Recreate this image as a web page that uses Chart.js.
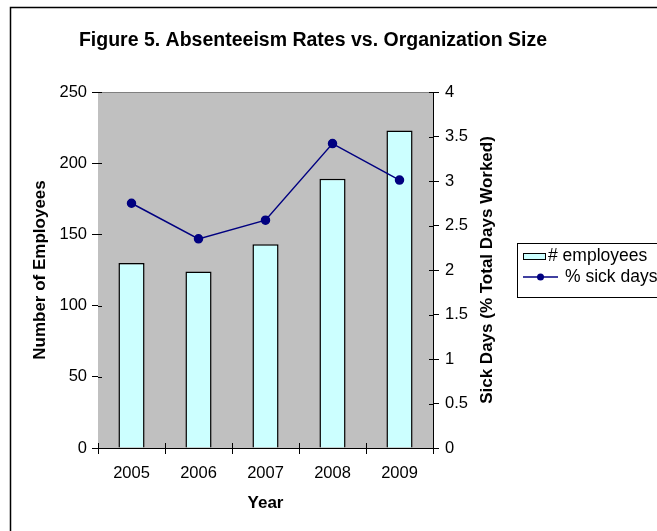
<!DOCTYPE html>
<html>
<head>
<meta charset="utf-8">
<script src="https://cdn.jsdelivr.net/npm/chart.js@4"></script>
<style>
  html, body { margin: 0; padding: 0; background: #fff; }
  #wrap { width: 657px; height: 531px; }
</style>
</head>
<body>
<div id="wrap"><canvas id="absChart" width="657" height="531"></canvas></div>
<script>
const years = ['2005', '2006', '2007', '2008', '2009'];
const employees = [130, 124, 143, 189, 223];
const sickDays = [2.75, 2.35, 2.56, 3.42, 3.01];
const employeeTicks = [0, 50, 100, 150, 200, 250];
const sickTicks = [0, 0.5, 1, 1.5, 2, 2.5, 3, 3.5, 4];

const FONT = 'Liberation Sans, Arial, Helvetica, sans-serif';
const TICK_SIZE = 16.5;
const AXIS_TITLE_SIZE = 17;

// grey plot area, outer frame, title, inner tick halves, right-hand title, legend
const excelLook = {
    id: 'excelLook',
    beforeDatasetsDraw(chart) {
        const ctx = chart.ctx;
        const a = chart.chartArea;
        ctx.save();
        ctx.fillStyle = '#c0c0c0';
        ctx.fillRect(a.left, a.top, a.right - a.left, a.bottom - a.top);
        ctx.strokeStyle = '#808080';
        ctx.lineWidth = 1;
        ctx.beginPath();
        ctx.moveTo(a.left, a.top + 0.5);
        ctx.lineTo(a.right, a.top + 0.5);
        ctx.stroke();
        ctx.restore();
    },
    afterDraw(chart) {
        const ctx = chart.ctx;
        const a = chart.chartArea;
        const x = chart.scales.x, y = chart.scales.y, y1 = chart.scales.y1;
        ctx.save();

        // frame round the whole chart
        ctx.strokeStyle = '#000';
        ctx.lineWidth = 1.5;
        ctx.strokeRect(10.5, 7.5, 700, 600);

        // title
        ctx.fillStyle = '#000';
        ctx.font = 'bold 19.5px ' + FONT;
        ctx.textAlign = 'center';
        ctx.textBaseline = 'middle';
        ctx.fillText('Figure 5. Absenteeism Rates vs. Organization Size', 313, 41);

        // tick halves reaching into the plot
        ctx.strokeStyle = '#000';
        ctx.lineWidth = 1;
        ctx.beginPath();
        employeeTicks.forEach(v => {
            const py = Math.round(y.getPixelForValue(v)) + 0.5;
            ctx.moveTo(a.left, py); ctx.lineTo(a.left + 4, py);
        });
        sickTicks.forEach(v => {
            const py = Math.round(y1.getPixelForValue(v)) + 0.5;
            ctx.moveTo(a.right - 4, py); ctx.lineTo(a.right, py);
        });
        for (let i = 0; i <= years.length; i++) {
            const px = Math.round(x.getPixelForValue(i - 0.5)) + 0.5;
            ctx.moveTo(px, a.bottom); ctx.lineTo(px, a.bottom - 5);
        }
        ctx.stroke();

        // right axis title, reading upwards
        ctx.save();
        ctx.translate(487, (a.top + a.bottom) / 2);
        ctx.rotate(-Math.PI / 2);
        ctx.font = 'bold ' + AXIS_TITLE_SIZE + 'px ' + FONT;
        ctx.textAlign = 'center';
        ctx.textBaseline = 'middle';
        ctx.fillText('Sick Days (% Total Days Worked)', 0, 0);
        ctx.restore();

        // legend
        const ds = chart.data.datasets;
        const bars = ds.find(d => d.type !== 'line');
        const line = ds.find(d => d.type === 'line');
        const lx = 517, ly = 243;
        ctx.lineWidth = 1;
        ctx.strokeStyle = '#000';
        ctx.strokeRect(lx + 0.5, ly + 0.5, 200, 54);
        ctx.fillStyle = bars.backgroundColor;
        ctx.fillRect(lx + 6, ly + 10, 22, 6);
        ctx.strokeRect(lx + 6.5, ly + 10.5, 22, 6);
        ctx.strokeStyle = line.borderColor;
        ctx.lineWidth = 1.5;
        ctx.beginPath();
        ctx.moveTo(lx + 6, ly + 34); ctx.lineTo(lx + 41, ly + 34);
        ctx.stroke();
        ctx.fillStyle = line.pointBackgroundColor;
        ctx.beginPath();
        ctx.arc(lx + 23.5, ly + 34, 3.5, 0, Math.PI * 2);
        ctx.fill();
        ctx.fillStyle = '#000';
        ctx.font = '17.5px ' + FONT;
        ctx.textAlign = 'left';
        ctx.textBaseline = 'middle';
        ctx.fillText(bars.label, lx + 31, ly + 13);
        ctx.fillText(line.label, lx + 48, ly + 34);

        ctx.restore();
    }
};

const ctx = document.getElementById('absChart').getContext('2d');
const absChart = new Chart(ctx, {
    type: 'bar',
    data: {
        labels: years,
        datasets: [
            {
                label: '# employees',
                data: employees,
                yAxisID: 'y',
                backgroundColor: '#ccffff',
                borderColor: '#000',
                borderWidth: 1.5,
                barPercentage: 0.39,
                categoryPercentage: 1,
                order: 1
            },
            {
                type: 'line',
                label: '% sick days',
                data: sickDays,
                yAxisID: 'y1',
                borderColor: '#000080',
                backgroundColor: '#000080',
                pointBackgroundColor: '#000080',
                pointBorderColor: '#000080',
                pointRadius: 4,
                borderWidth: 1.5,
                tension: 0,
                order: 0
            }
        ]
    },
    options: {
        responsive: false,
        animation: false,
        layout: { padding: { left: 0, right: 134, top: 92, bottom: 0 } },
        plugins: {
            legend: { display: false },
            title: { display: false },
            tooltip: { enabled: false }
        },
        scales: {
            x: {
                offset: true,
                grid: { offset: true, drawOnChartArea: false, tickLength: 6, color: '#000' },
                border: { display: true, color: '#000', width: 1 },
                ticks: { color: '#000', font: { family: FONT, size: TICK_SIZE }, padding: 10, maxRotation: 0 },
                title: { display: true, text: 'Year', color: '#000', font: { family: FONT, size: AXIS_TITLE_SIZE, weight: 'bold' }, padding: { top: 0, bottom: 17 } },
                afterFit(scale) { scale.height = 83; }
            },
            y: {
                position: 'left',
                min: 0, max: 250,
                afterBuildTicks(scale) { scale.ticks = employeeTicks.map(v => ({ value: v })); },
                grid: { drawOnChartArea: false, tickLength: 6, color: '#000' },
                border: { display: true, color: '#000', width: 1 },
                ticks: { color: '#000', font: { family: FONT, size: TICK_SIZE }, padding: 5 },
                title: { display: true, text: 'Number of Employees', color: '#000', font: { family: FONT, size: AXIS_TITLE_SIZE, weight: 'bold' }, padding: { top: 30, bottom: 0 } },
                afterFit(scale) { scale.width = 98; }
            },
            y1: {
                position: 'right',
                min: 0, max: 4,
                afterBuildTicks(scale) { scale.ticks = sickTicks.map(v => ({ value: v })); },
                grid: { drawOnChartArea: false, tickLength: 6, color: '#000' },
                border: { display: true, color: '#000', width: 1 },
                ticks: { color: '#000', font: { family: FONT, size: TICK_SIZE }, padding: 6, callback: v => String(v) },
                afterFit(scale) { scale.width = 90; }
            }
        }
    },
    plugins: [excelLook]
});
</script>
</body>
</html>
